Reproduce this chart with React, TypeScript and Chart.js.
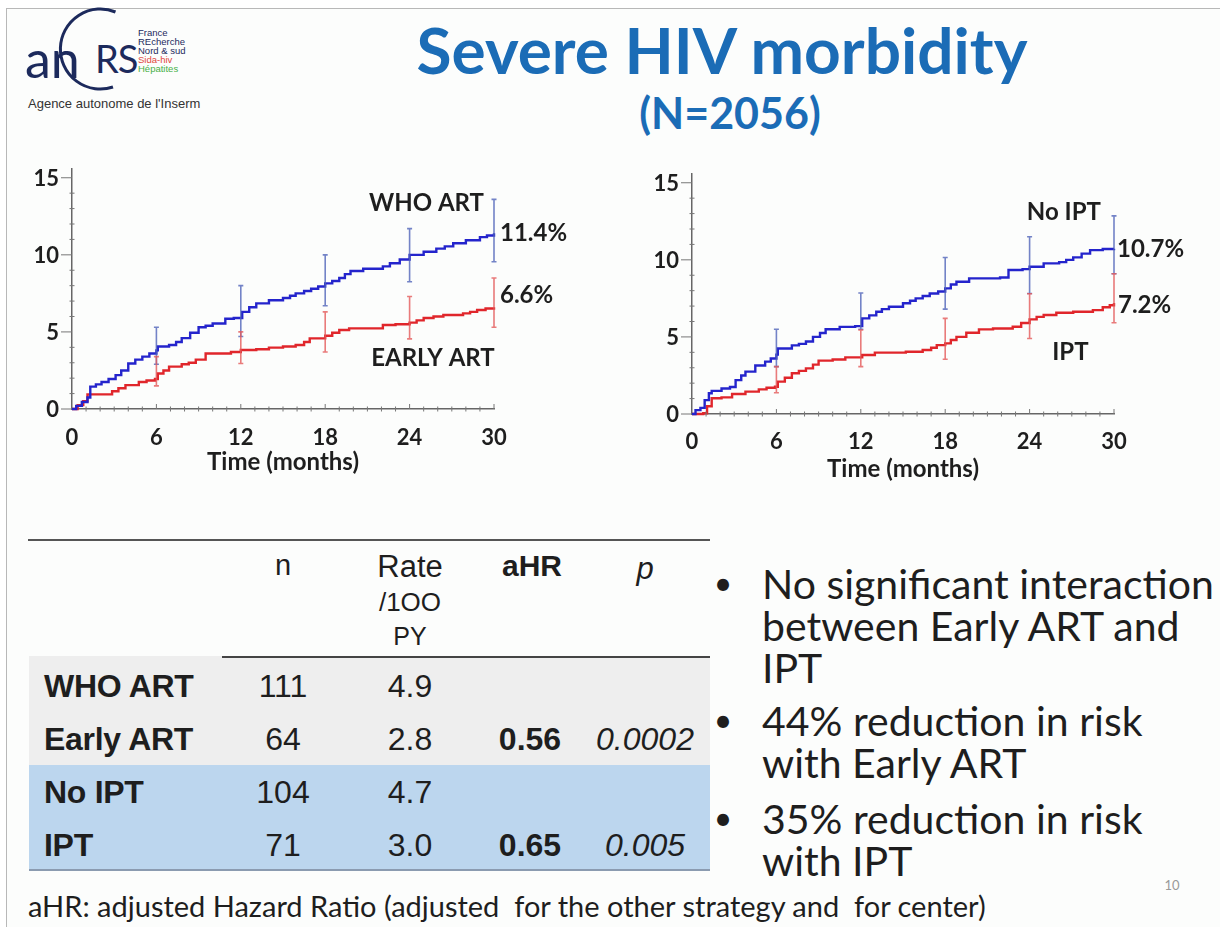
import React, { useEffect, useRef } from "react";
import { Chart, registerables } from "chart.js";
Chart.register(...registerables);

// ---------- data (cumulative incidence, %) ----------
const xTickValues = [0, 6, 12, 18, 24, 30];
const yTickValues = [0, 5, 10, 15];
const ciMonths = [6, 12, 18, 24, 30];

const whoArt = [
  [0, 0], [0.3, 0.2], [0.7, 0.45], [1.1, 0.75], [1.3, 1.45], [1.7, 1.6], [2.1, 1.75], [2.6, 1.95],
  [3.1, 2.2], [3.5, 2.5], [4.0, 2.95], [4.5, 3.2], [5.0, 3.4], [5.5, 3.6], [6.0, 3.8], [6.1, 4.05],
  [6.9, 4.15], [7.4, 4.35], [7.8, 4.6], [8.4, 4.95], [9.0, 5.3], [9.5, 5.4], [10.0, 5.55], [10.9, 5.85],
  [11.5, 5.9], [12.1, 6.3], [12.6, 6.6], [13.1, 6.85], [14.0, 7.05], [15.0, 7.2], [15.5, 7.35],
  [15.9, 7.5], [16.5, 7.65], [17.0, 7.8], [17.5, 7.95], [18.0, 8.15], [18.5, 8.3], [19.0, 8.5],
  [19.4, 8.75], [19.8, 8.95], [20.7, 9.1], [22.1, 9.25], [22.6, 9.45], [23.3, 9.7], [24.0, 10.0],
  [25.0, 10.2], [25.9, 10.4], [26.5, 10.55], [27.1, 10.75], [28.0, 10.95], [29.0, 11.15],
  [29.5, 11.25], [30.0, 11.4],
];
const earlyArt = [
  [0, 0], [0.4, 0.25], [0.8, 0.5], [1.1, 0.95], [2.85, 1.15], [3.3, 1.35], [3.8, 1.55], [4.75, 1.75],
  [5.3, 1.85], [5.9, 1.95], [6.1, 2.3], [6.5, 2.5], [6.9, 2.75], [7.8, 2.9], [8.3, 3.0], [8.8, 3.2],
  [9.5, 3.6], [11.3, 3.7], [12.0, 3.83], [13.1, 3.88], [14.0, 3.98], [15.0, 4.05], [15.9, 4.15],
  [16.5, 4.35], [16.9, 4.58], [18.0, 4.75], [18.5, 4.95], [19.0, 5.12], [19.7, 5.23], [22.1, 5.45],
  [23.0, 5.5], [24.0, 5.6], [24.5, 5.75], [25.0, 5.9], [25.7, 6.0], [26.4, 6.1], [27.8, 6.2],
  [28.3, 6.3], [28.8, 6.42], [29.4, 6.52], [30.0, 6.6],
];
const noIpt = [
  [0, 0], [0.25, 0.25], [0.6, 0.4], [0.9, 0.9], [1.2, 1.35], [1.4, 1.5], [2.1, 1.65], [2.7, 1.75],
  [3.1, 2.2], [3.5, 2.5], [3.8, 2.75], [4.5, 3.15], [5.2, 3.4], [5.6, 3.6], [6.0, 3.85], [6.1, 4.25],
  [7.1, 4.45], [7.6, 4.55], [8.1, 4.7], [8.6, 5.0], [9.1, 5.25], [9.5, 5.5], [10.5, 5.65], [11.6, 5.7],
  [12.1, 6.2], [12.6, 6.4], [13.1, 6.63], [13.5, 6.8], [14.0, 6.96], [15.0, 7.18], [15.5, 7.35],
  [15.9, 7.5], [16.4, 7.65], [16.9, 7.82], [17.5, 7.95], [18.0, 8.15], [18.4, 8.4], [18.8, 8.58],
  [19.7, 8.8], [21.9, 8.85], [22.5, 9.34], [23.5, 9.4], [24.0, 9.55], [25.0, 9.77], [26.1, 9.85],
  [26.6, 10.0], [27.1, 10.16], [27.7, 10.4], [28.3, 10.63], [29.2, 10.7], [30.0, 10.72],
];
const ipt = [
  [0, 0], [0.8, 0.05], [1.07, 0.5], [1.4, 1.02], [2.1, 1.08], [2.85, 1.3], [3.8, 1.45], [4.75, 1.6],
  [5.3, 1.7], [5.9, 1.77], [6.1, 2.1], [6.6, 2.35], [7.1, 2.64], [7.6, 2.8], [8.1, 2.96], [8.6, 3.2],
  [9.0, 3.46], [10.0, 3.54], [10.9, 3.67], [12.1, 3.83], [13.0, 3.98], [15.2, 4.04], [16.4, 4.15],
  [17.0, 4.3], [17.4, 4.47], [18.0, 4.58], [18.4, 4.8], [18.8, 5.0], [19.5, 5.27], [20.4, 5.49],
  [21.4, 5.55], [22.8, 5.66], [23.4, 5.9], [24.0, 6.14], [24.5, 6.3], [25.0, 6.42], [25.9, 6.57],
  [27.1, 6.63], [28.5, 6.74], [29.2, 6.92], [29.7, 7.05], [30.0, 7.2],
];

const whoLow = [2.9, 4.7, 6.7, 8.25, 9.55];
const whoHigh = [5.3, 8.0, 10.0, 11.7, 13.6];
const earlyLow = [1.5, 2.95, 3.7, 4.55, 5.3];
const earlyHigh = [3.4, 5.0, 6.3, 7.3, 8.5];
const noIptLow = [3.07, 5.5, 6.8, 7.82, 9.1];
const noIptHigh = [5.5, 7.85, 10.15, 11.5, 12.85];
const iptLow = [1.38, 3.07, 3.55, 4.9, 5.92];
const iptHigh = [3.07, 5.45, 6.2, 7.8, 9.1];

// table
const tableRows = ["WHO ART", "Early ART", "No IPT", "IPT"];
const tableN = ["111", "64", "104", "71"];
const tableRate = ["4.9", "2.8", "4.7", "3.0"];
const tableAHR = ["", "0.56", "", "0.65"];
const tableP = ["", "0.0002", "", "0.005"];

const BLUE = "#2424cc";
const RED = "#e0262b";
const BLUE_CI = "rgba(80,100,185,0.8)";
const RED_CI = "rgba(228,90,90,0.8)";
const CHART_FONT = "Lato, 'Open Sans', sans-serif";

type Label = { text: string; x: number; y: number; dx?: number; dy?: number; align?: CanvasTextAlign };

function KmChart(props: {
  left: number; top: number;
  series: { data: number[][]; color: string }[];
  bars: { lo: number[]; hi: number[]; color: string }[];
  labels: Label[];
  tickPad: number;
  titleBottom: number;
}) {
  const ref = useRef<HTMLCanvasElement>(null);
  useEffect(() => {
    const plugin = {
      id: "kmExtras",
      afterDatasetsDraw(chart: any) {
        const { ctx, scales } = chart;
        const x = scales.x, y = scales.y;
        const x0 = x.getPixelForValue(0), y0 = y.getPixelForValue(0);
        ctx.save();
        // minor / major ticks
        ctx.strokeStyle = "#777";
        ctx.lineWidth = 1;
        for (let m = 1; m <= 30; m++) {
          const px = x.getPixelForValue(m);
          const major = m % 6 === 0;
          ctx.beginPath();
          ctx.moveTo(px, y0 - (major ? 5 : 2.5));
          ctx.lineTo(px, y0 + (major ? 0 : 2.5));
          ctx.stroke();
        }
        for (let v = 1; v <= 15; v++) {
          const py = y.getPixelForValue(v);
          ctx.beginPath();
          if (v % 5 === 0) { ctx.moveTo(x0 - 11, py); ctx.lineTo(x0, py); }
          else { ctx.moveTo(x0 - 2.5, py); ctx.lineTo(x0 + 2.5, py); }
          ctx.stroke();
        }
        ctx.beginPath(); ctx.moveTo(x0 - 11, y0); ctx.lineTo(x0, y0); ctx.stroke();
        // y tick labels
        ctx.fillStyle = "#1e1e1e";
        ctx.font = `bold 22px ${CHART_FONT}`;
        ctx.textAlign = "right";
        ctx.textBaseline = "middle";
        yTickValues.forEach((v) => ctx.fillText(String(v), x0 - 13, y.getPixelForValue(v) + 1));
        // CI bars
        props.bars.forEach((b) => {
          ctx.strokeStyle = b.color;
          ctx.lineWidth = 1.6;
          ciMonths.forEach((m, i) => {
            const px = x.getPixelForValue(m);
            const pl = y.getPixelForValue(b.lo[i]);
            const ph = y.getPixelForValue(b.hi[i]);
            ctx.beginPath();
            ctx.moveTo(px, pl); ctx.lineTo(px, ph);
            ctx.moveTo(px - 2.5, pl); ctx.lineTo(px + 2.5, pl);
            ctx.moveTo(px - 2.5, ph); ctx.lineTo(px + 2.5, ph);
            ctx.stroke();
          });
        });
        // labels
        ctx.fillStyle = "#1e1e1e";
        ctx.font = `bold 24px ${CHART_FONT}`;
        props.labels.forEach((l) => {
          ctx.textAlign = l.align || "center";
          ctx.fillText(l.text, x.getPixelForValue(l.x) + (l.dx || 0), y.getPixelForValue(l.y) + (l.dy || 0));
        });
        ctx.restore();
      },
    };
    const tickFont = { family: CHART_FONT, weight: "bold" as const, size: 22 };
    const titleFont = { family: CHART_FONT, weight: "bold" as const, size: 24 };
    const chart = new Chart(ref.current!, {
      type: "line",
      data: {
        datasets: props.series.map((s) => ({
          data: s.data.map(([t, v]) => ({ x: t, y: v })),
          borderColor: s.color,
          borderWidth: 2.4,
          pointRadius: 0,
          stepped: true,
          fill: false,
          clip: 6,
        })),
      },
      options: {
        animation: false,
        responsive: false,
        maintainAspectRatio: false,
        layout: { padding: { top: 8.5, right: 86, left: 0, bottom: 0 } },
        plugins: { legend: { display: false }, tooltip: { enabled: false } },
        scales: {
          x: {
            type: "linear", min: 0, max: 30,
            afterBuildTicks: (a: any) => { a.ticks = xTickValues.map((v) => ({ value: v })); },
            afterFit: (a: any) => { a.height = 71; },
            grid: { display: false, drawTicks: false },
            border: { display: true, color: "#666", width: 1.5 },
            ticks: { font: tickFont, color: "#1e1e1e", padding: props.tickPad, maxRotation: 0 },
            title: { display: true, text: "Time (months)", font: titleFont, color: "#1e1e1e", padding: { top: 0, bottom: props.titleBottom } },
          },
          y: {
            type: "linear", min: 0, max: 15.6,
            afterBuildTicks: (a: any) => { a.ticks = yTickValues.map((v) => ({ value: v })); },
            afterFit: (a: any) => { a.width = 52; },
            grid: { display: false, drawTicks: false },
            border: { display: true, color: "#666", width: 1.5 },
            ticks: { display: false },
          },
        },
      },
      plugins: [plugin],
    } as any);
    return () => chart.destroy();
  }, []);
  return (
    <canvas ref={ref} width={560} height={320}
      style={{ position: "absolute", left: props.left, top: props.top, width: 560, height: 320 }} />
  );
}

const abs = (o: React.CSSProperties): React.CSSProperties => ({ position: "absolute", whiteSpace: "pre", lineHeight: 1, ...o });
const C = (cx: number, cy: number, o: React.CSSProperties = {}) => abs({ left: cx, top: cy, transform: "translate(-50%,-50%)", ...o });
const L = (lx: number, cy: number, o: React.CSSProperties = {}) => abs({ left: lx, top: cy, transform: "translateY(-50%)", ...o });

export default function App() {
  const TF = "'Liberation Sans', Arial, sans-serif";
  const BF = "Lato, sans-serif";
  const rowY = [686, 739, 792, 845];
  const bullets = [
    { y: 583, lines: ["No significant interaction", "between Early ART and", "IPT"] },
    { y: 720, lines: ["44% reduction in risk", "with Early ART"] },
    { y: 818, lines: ["35% reduction in risk", "with IPT"] },
  ];
  return (
    <div style={{ position: "absolute", left: 0, top: 0, width: 1220, height: 927, background: "#fff", overflow: "hidden", fontFamily: BF, color: "#1e1e1e" }}>
      <div style={{ position: "absolute", left: 6, top: 8, width: 1300, height: 1000, borderLeft: "1.5px solid #b8b8b8", borderTop: "1.5px solid #b8b8b8", background: "#fcfdfc" }} />

      {/* logo */}
      <svg width={200} height={100} style={{ position: "absolute", left: 0, top: 0 }}>
        <path d="M 115.5 12 A 40 40 0 1 0 113 87" fill="none" stroke="#1c2a5c" strokeWidth={3} />
      </svg>
      <div style={L(25, 58, { fontSize: 52, color: "#1c2a5c", fontFamily: "Lato, sans-serif" })}>an</div>
      <div style={L(95, 58, { fontSize: 38, color: "#1c2a5c", fontFamily: "Lato, sans-serif", letterSpacing: -1 })}>RS</div>
      {[["France", "#1c2a5c"], ["REcherche", "#1c2a5c"], ["Nord & sud", "#1c2a5c"], ["Sida-hiv", "#e0483e"], ["Hépatites", "#48b048"]].map(([t, c], i) => (
        <div key={t} style={L(138, 33 + i * 9, { fontSize: 9.5, color: c, fontFamily: "'Liberation Sans', sans-serif" })}>{t}</div>
      ))}
      <div style={L(28, 103, { fontSize: 13, color: "#333", fontFamily: "'Liberation Sans', sans-serif" })}>Agence autonome de l'Inserm</div>

      {/* title */}
      <div style={C(722, 50, { fontSize: 64, fontWeight: 700, color: "#1b6cb6" })}>Severe HIV morbidity</div>
      <div style={C(730, 112, { fontSize: 43, fontWeight: 700, color: "#1b6cb6" })}>(N=2056)</div>

      {/* charts */}
      <KmChart left={20} top={160} tickPad={16} titleBottom={3}
        series={[{ data: whoArt, color: BLUE }, { data: earlyArt, color: RED }]}
        bars={[{ lo: whoLow, hi: whoHigh, color: BLUE_CI }, { lo: earlyLow, hi: earlyHigh, color: RED_CI }]}
        labels={[
          { text: "WHO ART", x: 25.2, y: 13.36 },
          { text: "11.4%", x: 30, y: 11.4, dx: 6, dy: 0, align: "left" },
          { text: "6.6%", x: 30, y: 6.6, dx: 6, dy: -12, align: "left" },
          { text: "EARLY ART", x: 25.66, y: 3.3 },
        ]} />
      <KmChart left={640} top={165} tickPad={15} titleBottom={1}
        series={[{ data: noIpt, color: BLUE }, { data: ipt, color: RED }]}
        bars={[{ lo: noIptLow, hi: noIptHigh, color: BLUE_CI }, { lo: iptLow, hi: iptHigh, color: RED_CI }]}
        labels={[
          { text: "No IPT", x: 26.44, y: 13.1 },
          { text: "10.7%", x: 30, y: 10.7, dx: 3, dy: 0, align: "left" },
          { text: "7.2%", x: 30, y: 7.2, dx: 4, dy: 2, align: "left" },
          { text: "IPT", x: 26.9, y: 4.0 },
        ]} />

      {/* table */}
      <div style={abs({ left: 29, top: 656, width: 681, height: 109, background: "#eeeeee" })} />
      <div style={abs({ left: 29, top: 765, width: 681, height: 105, background: "#bcd6ee" })} />
      <div style={abs({ left: 29, top: 869, width: 681, height: 2, background: "#8b9bb0" })} />
      <div style={abs({ left: 28, top: 539, width: 682, height: 2, background: "#555" })} />
      <div style={abs({ left: 222, top: 656, width: 488, height: 2, background: "#444" })} />
      <div style={C(283, 565, { fontFamily: TF, fontSize: 29 })}>n</div>
      <div style={C(410, 566, { fontFamily: TF, fontSize: 31 })}>Rate</div>
      <div style={C(410, 602, { fontFamily: TF, fontSize: 26 })}>/1OO</div>
      <div style={C(410, 636, { fontFamily: TF, fontSize: 25 })}>PY</div>
      <div style={C(532, 566, { fontFamily: TF, fontSize: 30, fontWeight: 700 })}>aHR</div>
      <div style={C(645, 568, { fontFamily: TF, fontSize: 31, fontStyle: "italic" })}>p</div>
      {tableRows.map((r, i) => (
        <React.Fragment key={r}>
          <div style={L(44, rowY[i], { fontFamily: TF, fontSize: 32, fontWeight: 700, letterSpacing: -0.3 })}>{r}</div>
          <div style={C(283, rowY[i], { fontFamily: TF, fontSize: 32 })}>{tableN[i]}</div>
          <div style={C(410, rowY[i], { fontFamily: TF, fontSize: 32 })}>{tableRate[i]}</div>
          <div style={C(530, rowY[i], { fontFamily: TF, fontSize: 32, fontWeight: 700 })}>{tableAHR[i]}</div>
          <div style={C(645, rowY[i], { fontFamily: TF, fontSize: 32, fontStyle: "italic" })}>{tableP[i]}</div>
        </React.Fragment>
      ))}

      {/* bullets */}
      {bullets.map((b) => (
        <React.Fragment key={b.y}>
          <div style={C(723, b.y, { fontSize: 32 })}>•</div>
          {b.lines.map((t, j) => (
            <div key={t} style={L(762, b.y + j * 42, { fontSize: 41 })}>{t}</div>
          ))}
        </React.Fragment>
      ))}

      {/* footer */}
      <div style={L(28, 905, { fontSize: 29 })}>aHR: adjusted Hazard Ratio (adjusted  for the other strategy and  for center)</div>
      <div style={C(1172, 885, { fontSize: 13, color: "#999" })}>10</div>
    </div>
  );
}
